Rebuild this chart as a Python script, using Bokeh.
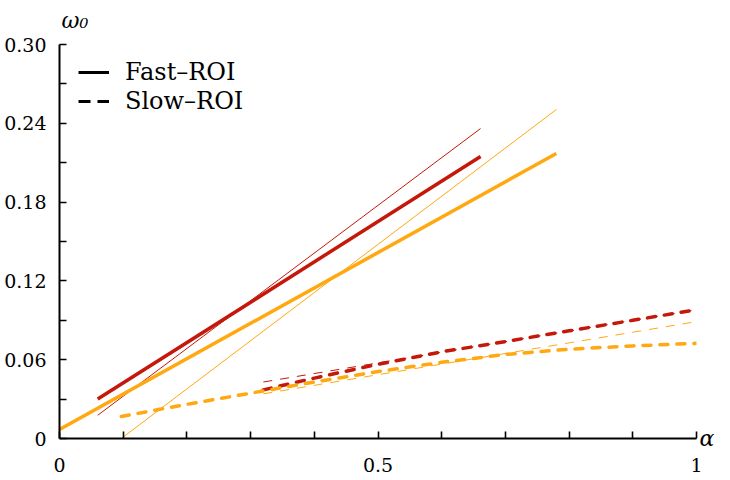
from bokeh.plotting import figure
from bokeh.models import (Range1d, FixedTicker, CustomJSTickFormatter, Legend, LegendItem, LinearAxis)
from bokeh.embed import file_html
from bokeh.resources import INLINE

# ---- data ----
fast_red_x = [0.06, 0.661]
fast_red_y = [0.030, 0.2147]
fast_red_thin_x = [0.06, 0.661]
fast_red_thin_y = [0.0177, 0.236]
fast_orange_x = [0.0, 0.78]
fast_orange_y = [0.0069, 0.217]
fast_orange_thin_x = [0.097, 0.78]
fast_orange_thin_y = [0.0, 0.2505]

slow_red_x = [0.32, 0.4, 0.5, 0.6, 0.7, 0.8, 0.9, 1.0]
slow_red_y = [0.037, 0.046, 0.0565, 0.066, 0.0738, 0.082, 0.090, 0.098]
slow_red_thin_x = [0.32, 1.0]
slow_red_thin_y = [0.043, 0.098]
slow_orange_x = [0.097, 0.2, 0.3, 0.4, 0.5, 0.6, 0.7, 0.8, 0.9, 1.0]
slow_orange_y = [0.0168, 0.026, 0.0345, 0.043, 0.051, 0.058, 0.064, 0.068, 0.0705, 0.0725]
slow_orange_thin_x = [0.32, 1.0]
slow_orange_thin_y = [0.034, 0.089]

x_major = [0, 0.5, 1]
x_minor = [0.1, 0.2, 0.3, 0.4, 0.6, 0.7, 0.8, 0.9]
y_major = [0, 0.06, 0.12, 0.18, 0.24, 0.30]
y_minor = [0.03, 0.09, 0.15, 0.21, 0.27]
legend_labels = ["Fast\u2013ROI", "Slow\u2013ROI"]
x_title = "\u03b1"
y_title = "\u03c9\u2080"

RED = "#c4180a"
ORANGE = "#ffa812"
FONT = "DejaVu Serif"
FS = "19px"

p = figure(width=730, height=480, output_backend="svg", toolbar_location=None,
           x_range=Range1d(0, 1), y_range=Range1d(0, 0.30),
           min_border_left=59, min_border_right=34, min_border_top=44, min_border_bottom=42)
p.title.visible = False
p.outline_line_color = None
p.xgrid.visible = False
p.ygrid.visible = False

for ax, major, minor, code in (
        (p.xaxis[0], x_major, x_minor,
         "return tick == 0 ? '0' : (tick == 1 ? '1' : tick.toFixed(1));"),
        (p.yaxis[0], y_major, y_minor,
         "return tick == 0 ? '0' : tick.toFixed(2);")):
    ax.ticker = FixedTicker(ticks=major, minor_ticks=minor)
    ax.formatter = CustomJSTickFormatter(code=code)
    ax.axis_line_width = 2
    ax.major_tick_in = 7
    ax.major_tick_out = 0
    ax.minor_tick_in = 7
    ax.minor_tick_out = 0
    ax.major_tick_line_width = 1.6
    ax.minor_tick_line_width = 1.6
    ax.major_label_text_font = FONT
    ax.major_label_text_font_size = FS
    ax.major_label_text_color = "black"
p.yaxis.major_label_standoff = 13
p.xaxis.major_label_standoff = 19

# axis titles drawn as single tick labels of bare extra axes
def title_axis(text, tick, standoff):
    return LinearAxis(ticker=FixedTicker(ticks=[tick]),
                      formatter=CustomJSTickFormatter(code="return '%s';" % text),
                      axis_line_color=None, major_tick_line_color=None,
                      minor_tick_line_color=None, major_label_standoff=standoff,
                      major_tick_in=0, major_tick_out=0,
                      major_label_text_font=FONT, major_label_text_font_style="italic",
                      major_label_text_font_size="22px", major_label_text_color="black")

p.add_layout(title_axis(x_title, 0, 3), "right")      # alpha at y = 0
p.add_layout(title_axis(y_title, 0.0243, 12), "above")  # omega_0 above x = 0

# thin lines
p.line(fast_red_thin_x, fast_red_thin_y, color=RED, line_width=1)
p.line(slow_red_thin_x, slow_red_thin_y, color=RED, line_width=1, line_dash="9 8")
p.line(fast_orange_thin_x, fast_orange_thin_y, color=ORANGE, line_width=1)
p.line(slow_orange_thin_x, slow_orange_thin_y, color=ORANGE, line_width=1, line_dash="9 8")
# thick lines
p.line(fast_red_x, fast_red_y, color=RED, line_width=3.5)
p.line(slow_red_x, slow_red_y, color=RED, line_width=3.5, line_dash="8 9", line_cap="round")
p.line(fast_orange_x, fast_orange_y, color=ORANGE, line_width=3.5)
p.line(slow_orange_x, slow_orange_y, color=ORANGE, line_width=3.5, line_dash="8 9", line_cap="round")

# legend samples (off-screen data)
r_fast = p.line(x=[-2, -1.5], y=[-1, -1], color="black", line_width=3)
r_slow = p.line(x=[-2, -1.5], y=[-1, -1], color="black", line_width=3, line_dash="12 7")
legend = Legend(items=[LegendItem(label=legend_labels[0], renderers=[r_fast]),
                       LegendItem(label=legend_labels[1], renderers=[r_slow])],
                location=(19, 323), margin=0, padding=0, spacing=1,
                border_line_color=None, background_fill_alpha=0,
                label_text_font=FONT, label_text_font_size="24px", label_text_color="black",
                glyph_width=31, glyph_height=20, label_standoff=16)
p.add_layout(legend)

open("out.html", "w").write(file_html(p, INLINE))
